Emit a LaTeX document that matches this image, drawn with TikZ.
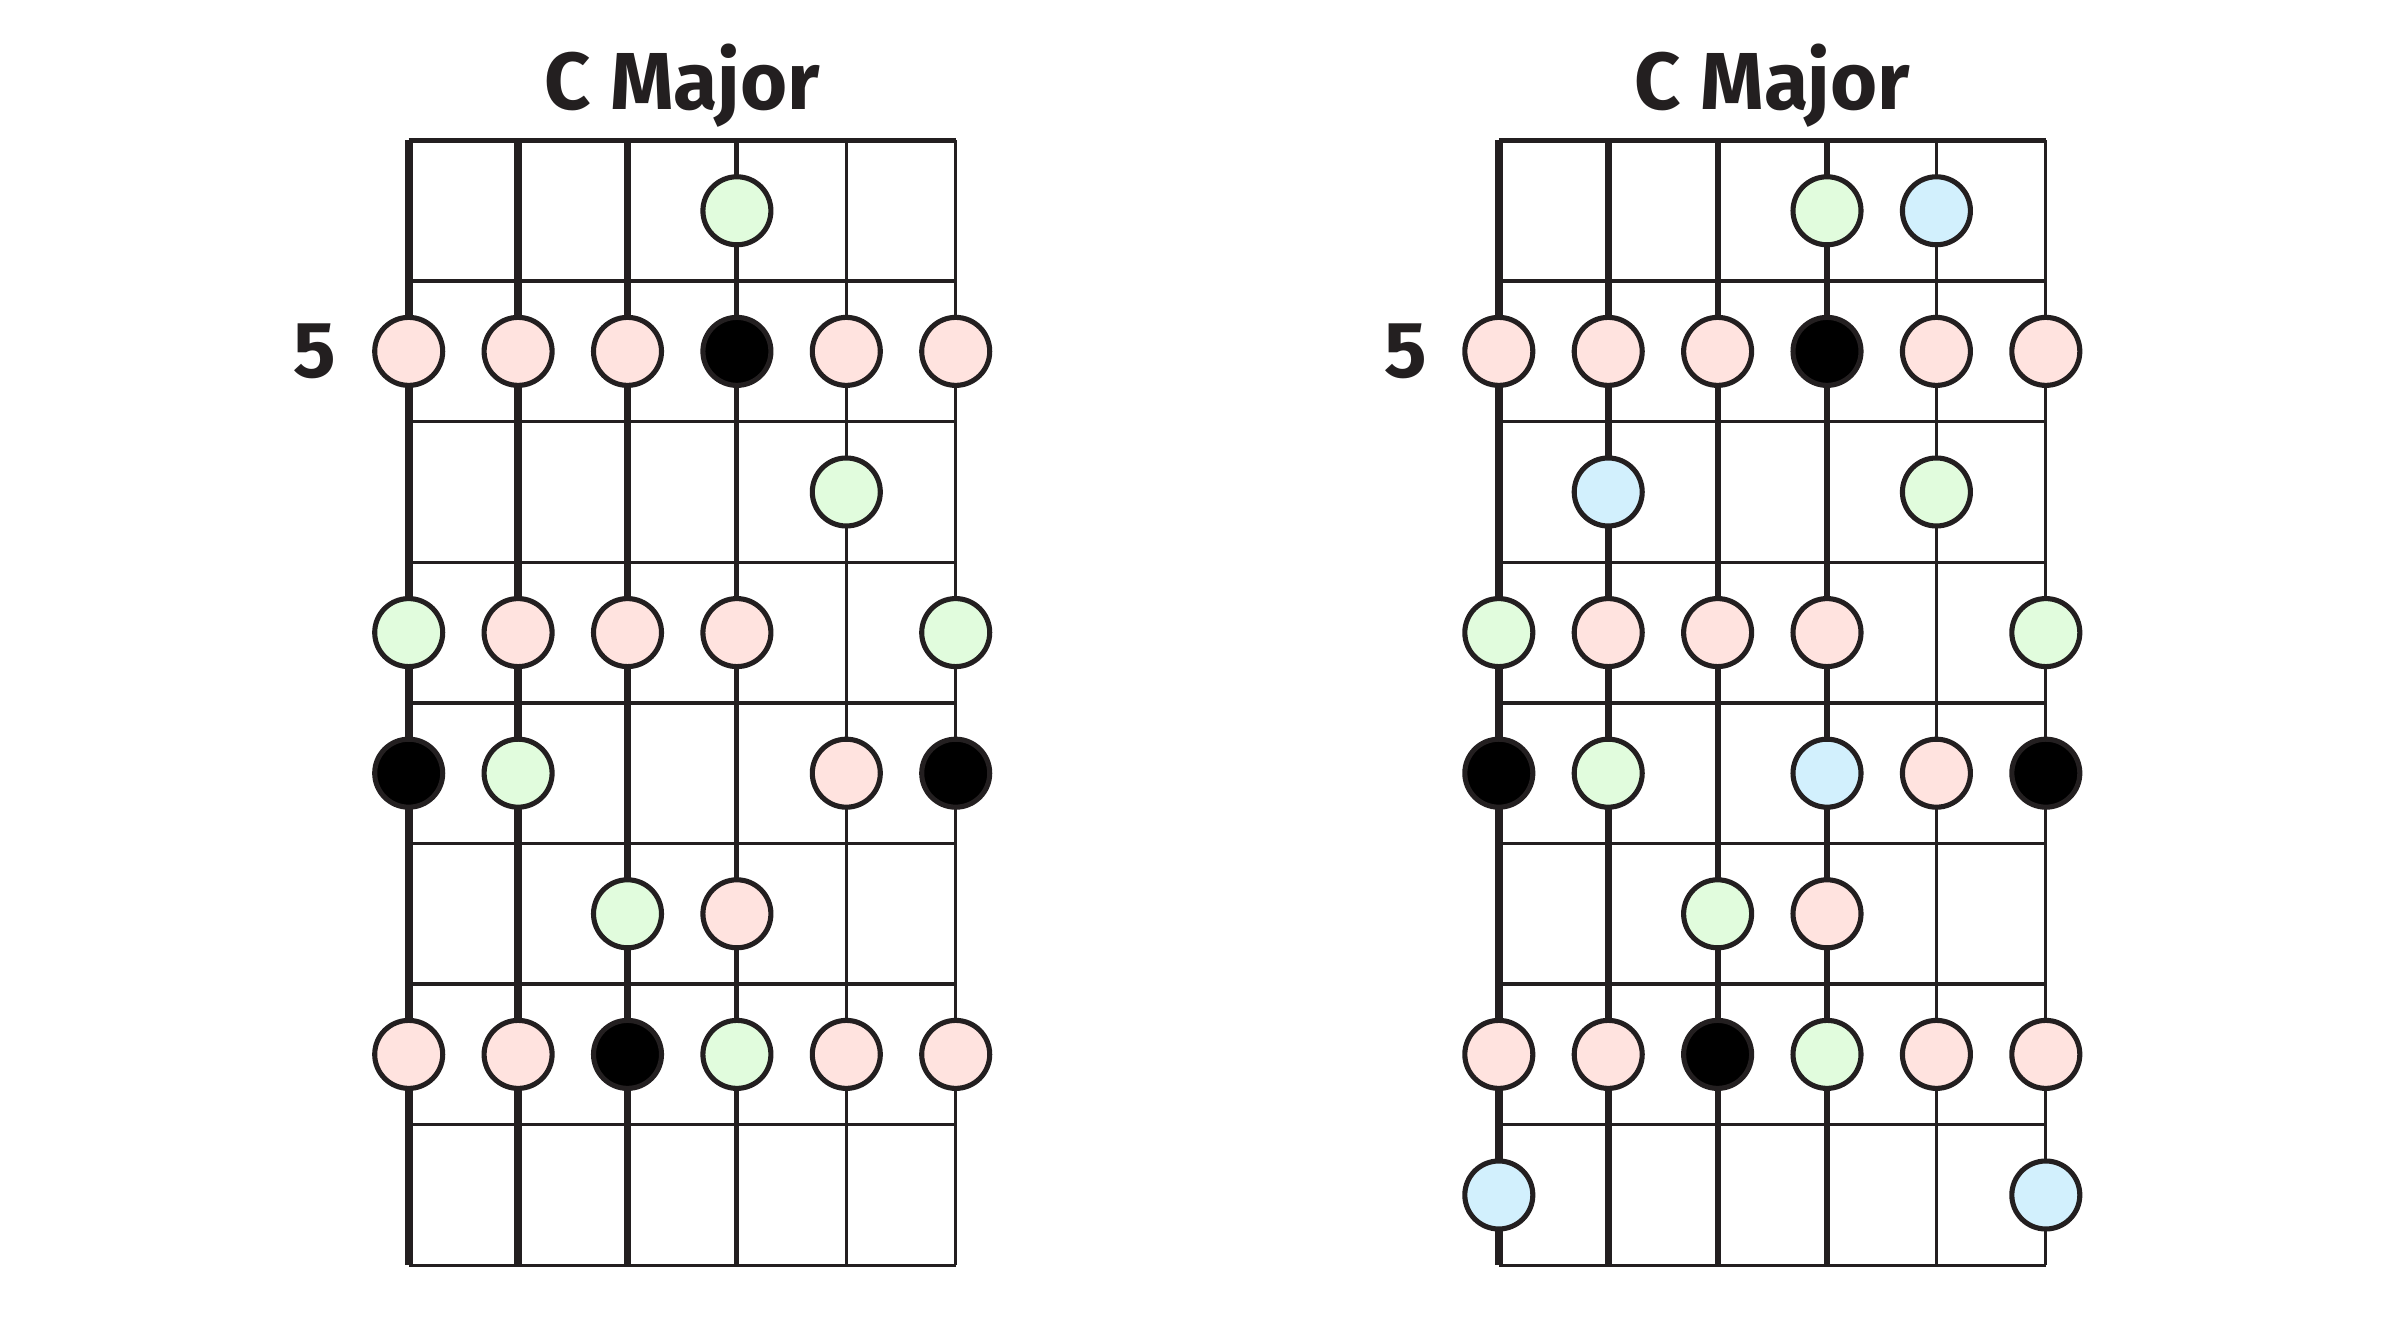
\documentclass[tikz,border=0pt]{standalone}
\usepackage{fontspec}
\setmainfont{Fira Sans}
\usetikzlibrary{positioning}

\definecolor{ink}{HTML}{231F20}
\definecolor{notepink}{HTML}{FFE3DF}
\definecolor{notegreen}{HTML}{E1FCDD}
\definecolor{noteblue}{HTML}{D2F0FD}

\begin{document}
\begin{tikzpicture}[x=1cm,y=1cm,
  note/.style={circle,draw=ink,line width=1.45pt,minimum size=0.68cm,inner sep=0pt},
  pinknote/.style={note,fill=notepink},
  greennote/.style={note,fill=notegreen},
  bluenote/.style={note,fill=noteblue},
  rootnote/.style={note,fill=black},
  fretline/.style={draw=ink,line width=1pt},
  title/.style={font=\bfseries\fontsize{23}{24}\selectfont,text=ink,anchor=base,inner sep=0pt},
  fretnum/.style={font=\bfseries\fontsize{22.6}{24}\selectfont,text=ink,inner sep=0pt}
  ]

  \useasboundingbox (0,0) rectangle (24,13.2);

  % two necks: strings, frets, title
  \foreach \nk/\xo in {L/4.087,R/14.988}{
    \begin{scope}[shift={(\xo,11.795)}]
      \foreach \s/\w in {1/2.3,2/2.1,3/1.75,4/1.45,5/1.0,6/0.9}
        \draw[ink,line width=\w pt] ({(\s-1)*1.094},0) -- ({(\s-1)*1.094},{-8*1.406});
      \draw[fretline,line width=1.2pt] (0,0) -- (5.47,0);
      \foreach \f in {1,...,8}
        \draw[fretline] (0,{-\f*1.406}) -- (5.47,{-\f*1.406});
      \node[title] (title\nk) at (2.735,0.305) {C Major};
    \end{scope}
  }

  % left neck
  \begin{scope}[shift={(4.087,11.795)}]
    \foreach \r/\s/\c in {1/4/greennote,
      2/1/pinknote,2/2/pinknote,2/3/pinknote,2/4/rootnote,2/5/pinknote,2/6/pinknote,
      3/5/greennote,
      4/1/greennote,4/2/pinknote,4/3/pinknote,4/4/pinknote,4/6/greennote,
      5/1/rootnote,5/2/greennote,5/5/pinknote,5/6/rootnote,
      6/3/greennote,6/4/pinknote,
      7/1/pinknote,7/2/pinknote,7/3/rootnote,7/4/greennote,7/5/pinknote,7/6/pinknote}
      \node[\c] (L\r\s) at ({(\s-1)*1.094},{-(\r-0.5)*1.406}) {};
  \end{scope}
  \node[fretnum,left=0.35cm of L21] (numL) {5};

  % right neck
  \begin{scope}[shift={(14.988,11.795)}]
    \foreach \r/\s/\c in {1/4/greennote,1/5/bluenote,
      2/1/pinknote,2/2/pinknote,2/3/pinknote,2/4/rootnote,2/5/pinknote,2/6/pinknote,
      3/2/bluenote,3/5/greennote,
      4/1/greennote,4/2/pinknote,4/3/pinknote,4/4/pinknote,4/6/greennote,
      5/1/rootnote,5/2/greennote,5/4/bluenote,5/5/pinknote,5/6/rootnote,
      6/3/greennote,6/4/pinknote,
      7/1/pinknote,7/2/pinknote,7/3/rootnote,7/4/greennote,7/5/pinknote,7/6/pinknote,
      8/1/bluenote,8/6/bluenote}
      \node[\c] (R\r\s) at ({(\s-1)*1.094},{-(\r-0.5)*1.406}) {};
  \end{scope}
  \node[fretnum,left=0.35cm of R21] (numR) {5};
\end{tikzpicture}
\end{document}
